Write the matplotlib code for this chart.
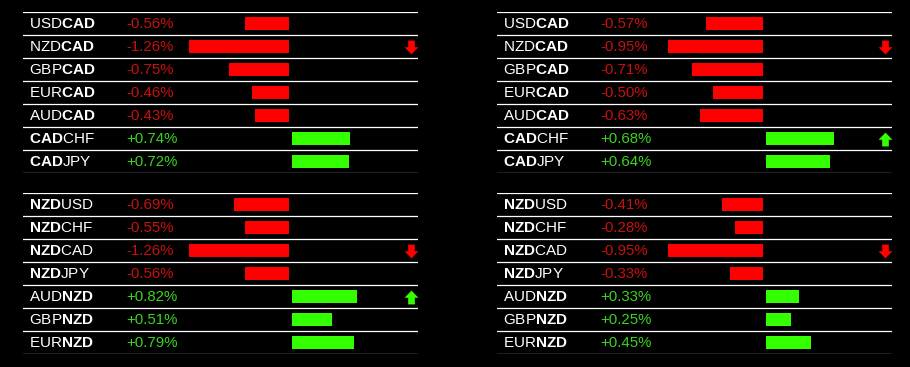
import numpy as np
import matplotlib.pyplot as plt
from matplotlib.path import Path

plt.rcParams['font.family'] = ['Liberation Sans', 'DejaVu Sans']
plt.rcParams['mathtext.fontset'] = 'custom'
plt.rcParams['mathtext.rm'] = 'Liberation Sans'
plt.rcParams['mathtext.bf'] = 'Liberation Sans:bold'

# panel data: pairs top to bottom, % change, arrow flag (-1 down, +1 up, 0 none)
tl_focus = "CAD"
tl_pairs = ["USDCAD", "NZDCAD", "GBPCAD", "EURCAD", "AUDCAD", "CADCHF", "CADJPY"]
tl_values = [-0.56, -1.26, -0.75, -0.46, -0.43, 0.74, 0.72]
tl_arrows = [0, -1, 0, 0, 0, 0, 0]

bl_focus = "NZD"
bl_pairs = ["NZDUSD", "NZDCHF", "NZDCAD", "NZDJPY", "AUDNZD", "GBPNZD", "EURNZD"]
bl_values = [-0.69, -0.55, -1.26, -0.56, 0.82, 0.51, 0.79]
bl_arrows = [0, 0, -1, 0, 1, 0, 0]

tr_focus = "CAD"
tr_pairs = ["USDCAD", "NZDCAD", "GBPCAD", "EURCAD", "AUDCAD", "CADCHF", "CADJPY"]
tr_values = [-0.57, -0.95, -0.71, -0.50, -0.63, 0.68, 0.64]
tr_arrows = [0, -1, 0, 0, 0, 1, 0]

br_focus = "NZD"
br_pairs = ["NZDUSD", "NZDCHF", "NZDCAD", "NZDJPY", "AUDNZD", "GBPNZD", "EURNZD"]
br_values = [-0.41, -0.28, -0.95, -0.33, 0.33, 0.25, 0.45]
br_arrows = [0, 0, -1, 0, 0, 0, 0]

RED_BAR = "#ff0000"
GREEN_BAR = "#33ff00"
RED_TXT = "#c81010"
GREEN_TXT = "#3ad41f"

W, H = 910, 367
down_arrow = Path([(-0.24, 0.5), (0.24, 0.5), (0.24, 0.02), (0.5, 0.02), (0.0, -0.5),
                   (-0.5, 0.02), (-0.24, 0.02), (-0.24, 0.5)], closed=True)
up_arrow = Path([(x, -y) for x, y in down_arrow.vertices], closed=True)


def pair_label(pair, focus):
    parts = []
    for cur in (pair[:3], pair[3:]):
        parts.append(r"$\mathbf{" + cur + "}$" if cur == focus else cur)
    return "".join(parts)


def draw_panel(fig, rect_px, pairs, values, arrows, focus):
    x0, y0, w, h = rect_px
    ax = fig.add_axes([x0 / W, 1 - (y0 + h) / H, w / W, h / H])
    ax.set_facecolor("black")
    vals = np.array(values)
    # 100 px for the largest move (or for 1% if all are smaller)
    scale = 100 / max(1.0, np.abs(vals).max())
    zero_px = 266
    ax.set_xlim(-zero_px / scale, (w - zero_px) / scale)
    n = len(pairs)
    ax.set_ylim(n - 0.5, -0.5)
    rows = np.arange(n)
    gap = 2.5 / scale
    neg = vals < 0
    ax.barh(rows[neg], vals[neg], height=0.6, color=RED_BAR)
    ax.barh(rows[~neg], vals[~neg], left=gap, height=0.6, color=GREEN_BAR)
    for y in np.arange(n + 1) - 0.5:
        ax.axhline(y, color="white", lw=0.9)
    tr = ax.get_yaxis_transform()
    for i, (pair, v, a) in enumerate(zip(pairs, values, arrows)):
        ax.text(0.015, i + 0.04, pair_label(pair, focus), transform=tr, color="white",
                fontsize=11, va="center")
        ax.text(0.262, i + 0.04, f"{v:+.2f}%", transform=tr, fontsize=10.8,
                color=RED_TXT if v < 0 else GREEN_TXT, va="center")
        if a:
            ax.plot([0.982], [i], transform=tr, marker=up_arrow if a > 0 else down_arrow,
                    ms=10, color=GREEN_BAR if a > 0 else RED_BAR, mec="none")
    ax.axis("off")
    return ax


fig = plt.figure(figsize=(9.1, 3.67), dpi=100, facecolor="black")
draw_panel(fig, (23, 12, 395, 161), tl_pairs, tl_values, tl_arrows, tl_focus)
draw_panel(fig, (23, 193, 395, 161), bl_pairs, bl_values, bl_arrows, bl_focus)
draw_panel(fig, (497, 12, 395, 161), tr_pairs, tr_values, tr_arrows, tr_focus)
draw_panel(fig, (497, 193, 395, 161), br_pairs, br_values, br_arrows, br_focus)
fig.savefig("out.png", dpi=100, facecolor="black")
